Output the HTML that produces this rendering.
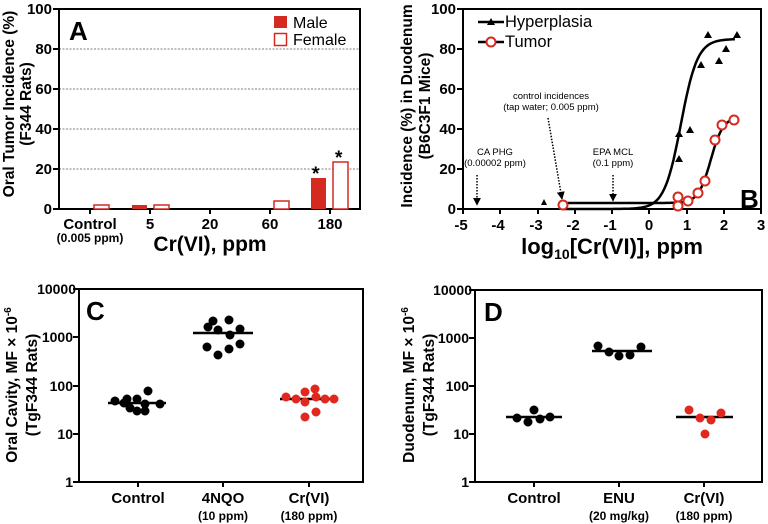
<!DOCTYPE html>
<html><head><style>body{margin:0;background:#fff}svg{display:block;font-family:"Liberation Sans",Arial,sans-serif}</style></head><body>
<svg width="768" height="524" viewBox="0 0 768 524" xmlns="http://www.w3.org/2000/svg">
<defs><marker id="ar" viewBox="0 0 10 10" refX="9" refY="5" markerUnits="userSpaceOnUse" markerWidth="8" markerHeight="8" orient="auto"><path d="M0,0 L10,5 L0,10z" fill="#000"/></marker></defs>
<!-- Panel A -->
<g stroke="#555" stroke-dasharray="2,1.5" stroke-width="0.8">
<line x1="59" y1="49" x2="360" y2="49"/><line x1="59" y1="89" x2="360" y2="89"/><line x1="59" y1="129" x2="360" y2="129"/><line x1="59" y1="169" x2="360" y2="169"/></g>
<rect x="59" y="9" width="301" height="200" fill="none" stroke="#000" stroke-width="2"/>
<g stroke="#000" stroke-width="2"><line x1="53" y1="9" x2="59" y2="9"/><line x1="53" y1="49" x2="59" y2="49"/><line x1="53" y1="89" x2="59" y2="89"/><line x1="53" y1="129" x2="59" y2="129"/><line x1="53" y1="169" x2="59" y2="169"/><line x1="53" y1="209" x2="59" y2="209"/>
<line x1="90" y1="209" x2="90" y2="214"/><line x1="150" y1="209" x2="150" y2="214"/><line x1="210" y1="209" x2="210" y2="214"/><line x1="270" y1="209" x2="270" y2="214"/><line x1="330" y1="209" x2="330" y2="214"/></g>
<g font-weight="bold" font-size="15" text-anchor="end"><text x="52" y="14">100</text><text x="52" y="54">80</text><text x="52" y="94">60</text><text x="52" y="134">40</text><text x="52" y="174">20</text><text x="52" y="214">0</text></g>
<g fill="#d42a20"><rect x="132" y="205" width="15" height="4"/><rect x="311" y="178" width="15" height="31"/></g>
<g fill="#fff" stroke="#d42a20" stroke-width="1.5"><rect x="94" y="205" width="15" height="4"/><rect x="154" y="205" width="15" height="4"/><rect x="274" y="201" width="15" height="8"/><rect x="333" y="162" width="15" height="47"/></g>
<g font-weight="bold" font-size="19"><text x="312" y="180">*</text><text x="335" y="164">*</text></g>
<rect x="274" y="16" width="13" height="12" fill="#d42a20"/><rect x="274.5" y="33.5" width="12" height="12" fill="#fff" stroke="#d42a20" stroke-width="1.5"/>
<text x="293" y="28" font-size="16">Male</text><text x="293" y="45" font-size="16">Female</text>
<text x="69" y="40" font-size="26" font-weight="bold">A</text>
<g font-weight="bold" font-size="15" text-anchor="middle"><text x="90" y="229">Control</text><text x="150" y="229">5</text><text x="210" y="229">20</text><text x="270" y="229">60</text><text x="330" y="229">180</text></g>
<text x="90" y="242" font-weight="bold" font-size="12" text-anchor="middle">(0.005 ppm)</text>
<text x="210" y="251" font-weight="bold" font-size="21" text-anchor="middle">Cr(VI), ppm</text>
<g font-weight="bold" font-size="15.5" text-anchor="middle"><text transform="translate(14,104) rotate(-90)">Oral Tumor Incidence (%)</text><text transform="translate(31,104) rotate(-90)">(F344 Rats)</text></g>
<!-- Panel B -->
<rect x="463" y="9" width="298" height="200" fill="none" stroke="#000" stroke-width="2"/>
<g stroke="#000" stroke-width="2"><line x1="457" y1="9" x2="463" y2="9"/><line x1="457" y1="49" x2="463" y2="49"/><line x1="457" y1="89" x2="463" y2="89"/><line x1="457" y1="129" x2="463" y2="129"/><line x1="457" y1="169" x2="463" y2="169"/><line x1="457" y1="209" x2="463" y2="209"/>
<line x1="463" y1="209" x2="463" y2="214"/><line x1="500" y1="209" x2="500" y2="214"/><line x1="538" y1="209" x2="538" y2="214"/><line x1="575" y1="209" x2="575" y2="214"/><line x1="612" y1="209" x2="612" y2="214"/><line x1="649" y1="209" x2="649" y2="214"/><line x1="687" y1="209" x2="687" y2="214"/><line x1="724" y1="209" x2="724" y2="214"/><line x1="761" y1="209" x2="761" y2="214"/></g>
<g font-weight="bold" font-size="15" text-anchor="end"><text x="456" y="14">100</text><text x="456" y="54">80</text><text x="456" y="94">60</text><text x="456" y="134">40</text><text x="456" y="174">20</text><text x="456" y="214">0</text></g>
<g font-weight="bold" font-size="15" text-anchor="middle"><text x="461" y="230">-5</text><text x="498" y="230">-4</text><text x="536" y="230">-3</text><text x="573" y="230">-2</text><text x="610" y="230">-1</text><text x="649" y="230">0</text><text x="687" y="230">1</text><text x="724" y="230">2</text><text x="761" y="230">3</text></g>
<text x="612" y="254" font-weight="bold" font-size="22" text-anchor="middle">log<tspan font-size="14" dy="5">10</tspan><tspan dy="-5">[Cr(VI)], ppm</tspan></text>
<g font-weight="bold" font-size="15.5" text-anchor="middle"><text transform="translate(412,106) rotate(-90)">Incidence (%) in Duodenum</text><text transform="translate(430,106) rotate(-90)">(B6C3F1 Mice)</text></g>
<path id="hc" fill="none" stroke="#000" stroke-width="2.5" d=""/>
<path id="tc" fill="none" stroke="#000" stroke-width="2.5" d=""/>
<g fill="#000"><path d="M541,205 l3,-6 l3,6z"/>
<path d="M675,162 l4,-7 l4,7z"/><path d="M675,137 l4,-7 l4,7z"/><path d="M686,133 l4,-7 l4,7z"/><path d="M697,68 l4,-7 l4,7z"/><path d="M704,38 l4,-7 l4,7z"/><path d="M715,64 l4,-7 l4,7z"/><path d="M722,52 l4,-7 l4,7z"/><path d="M733,38 l4,-7 l4,7z"/></g>
<g fill="#fff" stroke="#d42a20" stroke-width="2"><circle cx="563" cy="205" r="4.5"/><circle cx="678" cy="197" r="4.5"/><circle cx="678" cy="206" r="4.5"/><circle cx="688" cy="201" r="4.5"/><circle cx="698" cy="193" r="4.5"/><circle cx="705" cy="181" r="4.5"/><circle cx="715" cy="140" r="4.5"/><circle cx="722" cy="125" r="4.5"/><circle cx="734" cy="120" r="4.5"/></g>
<g stroke="#000" stroke-width="1.5" stroke-dasharray="1.5,1.5" fill="none" marker-end="url(#ar)"><line x1="477" y1="175" x2="477" y2="205"/><line x1="613" y1="175" x2="613" y2="201"/><line x1="548" y1="118" x2="562" y2="199"/></g>
<g font-size="9.5" text-anchor="middle"><text x="495" y="155">CA PHG</text><text x="495" y="166">(0.00002 ppm)</text><text x="613" y="155">EPA MCL</text><text x="613" y="166">(0.1 ppm)</text><text x="551" y="99">control incidences</text><text x="551" y="110">(tap water; 0.005 ppm)</text></g>
<line x1="478" y1="22" x2="504" y2="22" stroke="#000" stroke-width="2.5"/><path d="M487,25 l4,-7 l4,7z"/>
<line x1="478" y1="42" x2="504" y2="42" stroke="#000" stroke-width="2.5"/><circle cx="491" cy="42" r="4.5" fill="#fff" stroke="#d42a20" stroke-width="2"/>
<text x="505" y="27" font-size="16.5">Hyperplasia</text><text x="505" y="47" font-size="16.5">Tumor</text>
<text x="740" y="208" font-size="26" font-weight="bold">B</text>
<!-- Panel C -->
<rect x="79" y="289" width="284" height="193" fill="none" stroke="#000" stroke-width="2"/>
<g stroke="#000" stroke-width="2"><line x1="73" y1="289" x2="79" y2="289"/><line x1="73" y1="337" x2="79" y2="337"/><line x1="73" y1="386" x2="79" y2="386"/><line x1="73" y1="434" x2="79" y2="434"/><line x1="73" y1="482" x2="79" y2="482"/><line x1="138" y1="482" x2="138" y2="487"/><line x1="223" y1="482" x2="223" y2="487"/><line x1="309" y1="482" x2="309" y2="487"/></g>
<g font-weight="bold" font-size="14" text-anchor="end"><text x="76" y="294">10000</text><text x="73" y="342">1000</text><text x="73" y="391">100</text><text x="73" y="439">10</text><text x="73" y="487">1</text></g>
<text x="86" y="320" font-size="26" font-weight="bold">C</text>
<g font-weight="bold" font-size="15" text-anchor="middle"><text x="138" y="503">Control</text><text x="223" y="503">4NQO</text><text x="309" y="503">Cr(VI)</text></g>
<g font-weight="bold" font-size="12" text-anchor="middle"><text x="223" y="520">(10 ppm)</text><text x="309" y="520">(180 ppm)</text></g>
<g font-weight="bold" font-size="15.5" text-anchor="middle"><text transform="translate(17,385) rotate(-90)">Oral Cavity, MF × 10<tspan font-size="10" dy="-6">-6</tspan></text><text transform="translate(37,385) rotate(-90)">(TgF344 Rats)</text></g>
<g stroke="#000" stroke-width="2.5"><line x1="108" y1="403" x2="166" y2="403"/><line x1="193" y1="333" x2="253" y2="333"/><line x1="280" y1="399" x2="338" y2="399"/></g>
<g fill="#000"><circle cx="115" cy="401" r="4.5"/><circle cx="127" cy="399" r="4.5"/><circle cx="130" cy="408" r="4.5"/><circle cx="137" cy="399" r="4.5"/><circle cx="137" cy="411" r="4.5"/><circle cx="145" cy="411" r="4.5"/><circle cx="145" cy="404" r="4.5"/><circle cx="148" cy="391" r="4.5"/><circle cx="160" cy="404" r="4.5"/><circle cx="124" cy="403" r="4.5"/>
<circle cx="213" cy="321" r="4.5"/><circle cx="208" cy="327" r="4.5"/><circle cx="218" cy="330" r="4.5"/><circle cx="229" cy="320" r="4.5"/><circle cx="230" cy="335" r="4.5"/><circle cx="240" cy="329" r="4.5"/><circle cx="207" cy="347" r="4.5"/><circle cx="229" cy="349" r="4.5"/><circle cx="240" cy="344" r="4.5"/><circle cx="218" cy="355" r="4.5"/></g>
<g fill="#e0281e"><circle cx="286" cy="397" r="4.5"/><circle cx="296" cy="399" r="4.5"/><circle cx="305" cy="392" r="4.5"/><circle cx="305" cy="402" r="4.5"/><circle cx="315" cy="389" r="4.5"/><circle cx="316" cy="397" r="4.5"/><circle cx="325" cy="399" r="4.5"/><circle cx="334" cy="399" r="4.5"/><circle cx="305" cy="417" r="4.5"/><circle cx="316" cy="412" r="4.5"/></g>
<!-- Panel D -->
<rect x="475" y="290" width="287" height="192" fill="none" stroke="#000" stroke-width="2"/>
<g stroke="#000" stroke-width="2"><line x1="469" y1="290" x2="475" y2="290"/><line x1="469" y1="338" x2="475" y2="338"/><line x1="469" y1="386" x2="475" y2="386"/><line x1="469" y1="434" x2="475" y2="434"/><line x1="469" y1="482" x2="475" y2="482"/><line x1="534" y1="482" x2="534" y2="487"/><line x1="619" y1="482" x2="619" y2="487"/><line x1="704" y1="482" x2="704" y2="487"/></g>
<g font-weight="bold" font-size="14" text-anchor="end"><text x="472" y="295">10000</text><text x="469" y="343">1000</text><text x="469" y="391">100</text><text x="469" y="439">10</text><text x="469" y="487">1</text></g>
<text x="484" y="321" font-size="26" font-weight="bold">D</text>
<g font-weight="bold" font-size="15" text-anchor="middle"><text x="534" y="503">Control</text><text x="619" y="503">ENU</text><text x="704" y="503">Cr(VI)</text></g>
<g font-weight="bold" font-size="12" text-anchor="middle"><text x="619" y="520">(20 mg/kg)</text><text x="704" y="520">(180 ppm)</text></g>
<g font-weight="bold" font-size="15.5" text-anchor="middle"><text transform="translate(414,385) rotate(-90)">Duodenum, MF × 10<tspan font-size="10" dy="-6">-6</tspan></text><text transform="translate(434,385) rotate(-90)">(TgF344 Rats)</text></g>
<g stroke="#000" stroke-width="2.5"><line x1="506" y1="417" x2="562" y2="417"/><line x1="592" y1="351" x2="652" y2="351"/><line x1="676" y1="417" x2="733" y2="417"/></g>
<g fill="#000"><circle cx="517" cy="418" r="4.5"/><circle cx="528" cy="422" r="4.5"/><circle cx="534" cy="410" r="4.5"/><circle cx="540" cy="419" r="4.5"/><circle cx="550" cy="417" r="4.5"/>
<circle cx="598" cy="346" r="4.5"/><circle cx="609" cy="352" r="4.5"/><circle cx="619" cy="356" r="4.5"/><circle cx="630" cy="355" r="4.5"/><circle cx="641" cy="347" r="4.5"/></g>
<g fill="#e0281e"><circle cx="689" cy="410" r="4.5"/><circle cx="700" cy="418" r="4.5"/><circle cx="705" cy="434" r="4.5"/><circle cx="711" cy="420" r="4.5"/><circle cx="721" cy="413" r="4.5"/></g>
<script>
(function(){function X(v){return 649.25+v*37.25}function Y(p){return 209-2*p}
function mk(f){var d="";for(var v=-2.3;v<=2.31;v+=0.05){d+=(d?"L":"M")+X(v).toFixed(1)+","+Y(f(v)).toFixed(1)}return d}
document.getElementById("hc").setAttribute("d",mk(function(v){return 85/(1+Math.exp(-(v-0.85)*4.5))}));
document.getElementById("tc").setAttribute("d",mk(function(v){return 3+43/(1+Math.exp(-(v-1.65)*6))}));})();
</script>
</svg>
</body></html>
